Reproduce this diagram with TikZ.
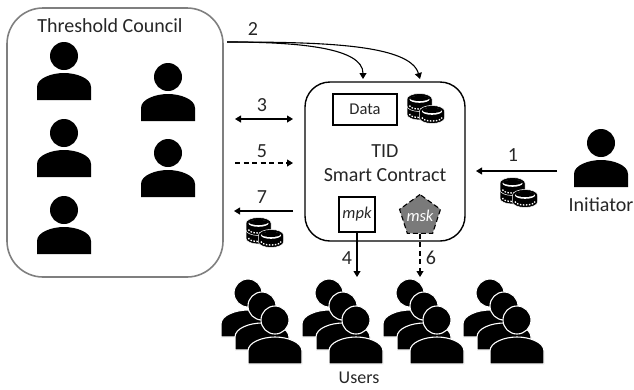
\documentclass[tikz,border=0pt]{standalone}
\usepackage{fontspec}
\setmainfont{Carlito}
\usetikzlibrary{arrows.meta,shapes.geometric}
\definecolor{councilgray}{HTML}{7F7F7F}
\definecolor{mskgray}{HTML}{7A7A7A}
\tikzset{
  x=1pt,y=-1pt,
  lbl/.style={font=\fontsize{20}{24}\selectfont,text=black!85,inner sep=0pt},
  small/.style={font=\fontsize{16.5}{19}\selectfont,text=black!85},
  flow/.style={line width=1.1pt,-{Triangle[width=7pt,length=6pt]}},
  bothflow/.style={line width=1.1pt,{Triangle[width=7pt,length=6pt]}-{Triangle[width=7pt,length=6pt]}},
  dashflow/.style={flow,dash pattern=on 5pt off 3.5pt},
  pics/person/.style={code={
    \fill[black] (0,0) circle (14);
    \fill[black] (-27,44) -- (-27,31) .. controls (-27,22) and (-12,17) .. (0,17)
       .. controls (12,17) and (27,22) .. (27,31) -- (27,44) -- cycle;
  }},
  pics/outlined/.style={code={
    \filldraw[black,draw=white,line width=1.1pt] (0,0) circle (14);
    \filldraw[black,draw=white,line width=1.1pt] (-27,44) -- (-27,31) .. controls (-27,22) and (-12,17) .. (0,17)
       .. controls (12,17) and (27,22) .. (27,31) -- (27,44) -- cycle;
  }},
  pics/crowd/.style={code={
    \pic at (0,0) {outlined};
    \pic at (14,13) {outlined};
    \pic at (27,27) {outlined};
  }},
  pics/onecoin/.style={code={
    \filldraw[black,draw=white,line width=.5pt] (-12.5,0) -- (-12.5,7)
       arc[start angle=180,end angle=0,x radius=12.5,y radius=5.5]
       -- (12.5,0) arc[start angle=0,end angle=-180,x radius=12.5,y radius=5.5] -- cycle;
    \fill[white] (0,0.4) ellipse[x radius=10,y radius=3.4];
    \fill[black] (0,-0.6) ellipse[x radius=9.5,y radius=2.6];
    \draw[white,line width=1.3pt,dash pattern=on 1.5pt off 1.5pt] (-10,6.5)
       arc[start angle=180,end angle=0,x radius=10,y radius=3.5];
  }},
  pics/coins/.style={code={
    \pic at (12.5,14.5) {onecoin};
    \pic at (12.5,6) {onecoin};
    \pic at (25,18) {onecoin};
  }}
}
\begin{document}
\begin{tikzpicture}
\useasboundingbox (0,0) rectangle (634,389);
% council
\node[draw=councilgray,line width=1.6pt,rounded corners=36pt,minimum width=216pt,minimum height=269pt,inner sep=0pt] (council) at (115,142.5) {};
\node[lbl] (counciltitle) at (110,26) {Threshold Council};
\pic at (64,56) {person};
\pic at (168,77) {person};
\pic at (64,133) {person};
\pic at (168,153) {person};
\pic at (64,210) {person};
% contract
\node[draw=black,line width=1.4pt,rounded corners=25pt,minimum width=160pt,minimum height=159pt,inner sep=0pt] (contract) at (385,161.5) {};
\node[draw=black,line width=1.1pt,minimum width=64pt,minimum height=31pt,inner sep=0pt,small] (data) at (365,109.5) {Data};
\pic at (407,93) {coins};
\node[lbl,align=center] (tid) at (385,163) {TID\\Smart Contract};
\node[draw=black,line width=1.1pt,minimum width=36pt,minimum height=35pt,inner sep=0pt,small,font=\fontsize{16.5}{19}\selectfont\itshape] (mpk) at (357,214.5) {mpk};
\node[regular polygon,regular polygon sides=5,draw=black,fill=mskgray,line width=1.1pt,dash pattern=on 5pt off 3pt,minimum size=43pt,inner sep=0pt] (msk) at (420,216) {};
\node[text=white,font=\fontsize{16.5}{19}\selectfont\itshape,inner sep=0pt] (msklabel) at (420,216) {msk};
% initiator
\pic at (601,143) {person};
\node[lbl] (initiator) at (601,205) {Initiator};
\pic at (500,177) {coins};
% users
\pic at (248,293) {crowd};
\pic at (329,293) {crowd};
\pic at (410,293) {crowd};
\pic at (490,293) {crowd};
\node[lbl,font=\fontsize{18}{20}\selectfont] (users) at (359,378) {Users};
% free ends
\coordinate (s2) at (227,42);
\coordinate (t2a) at (363,79);
\coordinate (t2b) at (420,79);
\coordinate (l3) at (235,119);
\coordinate (r3) at (293,119);
\coordinate (l5) at (235,163);
\coordinate (r5) at (293,163);
\coordinate (r7) at (293,211);
\coordinate (l7) at (234,211);
\coordinate (s1) at (557,171);
\coordinate (t1) at (476,171);
\coordinate (e4) at (357,277);
\coordinate (e6) at (420,277);
% connectors
\draw[flow] (s2) .. controls (300,42) and (363,48) .. (t2a);
\draw[flow] (s2) .. controls (320,42) and (410,44) .. (t2b);
\draw[bothflow] (l3) -- (r3);
\draw[dashflow] (l5) -- (r5);
\draw[flow] (r7) -- (l7);
\draw[flow] (s1) -- (t1);
\draw[flow] (mpk.south) -- (e4);
\draw[dashflow] (msk.south) -- (e6);
\pic at (246,217) {coins};
% labels
\node[lbl] (n2) at (253,29) {2};
\node[lbl] (n3) at (262,105) {3};
\node[lbl] (n5) at (262,151) {5};
\node[lbl] (n7) at (262,197) {7};
\node[lbl] (n1) at (513,155) {1};
\node[lbl] (n4) at (347,258) {4};
\node[lbl] (n6) at (431,258) {6};
\end{tikzpicture}
\end{document}
